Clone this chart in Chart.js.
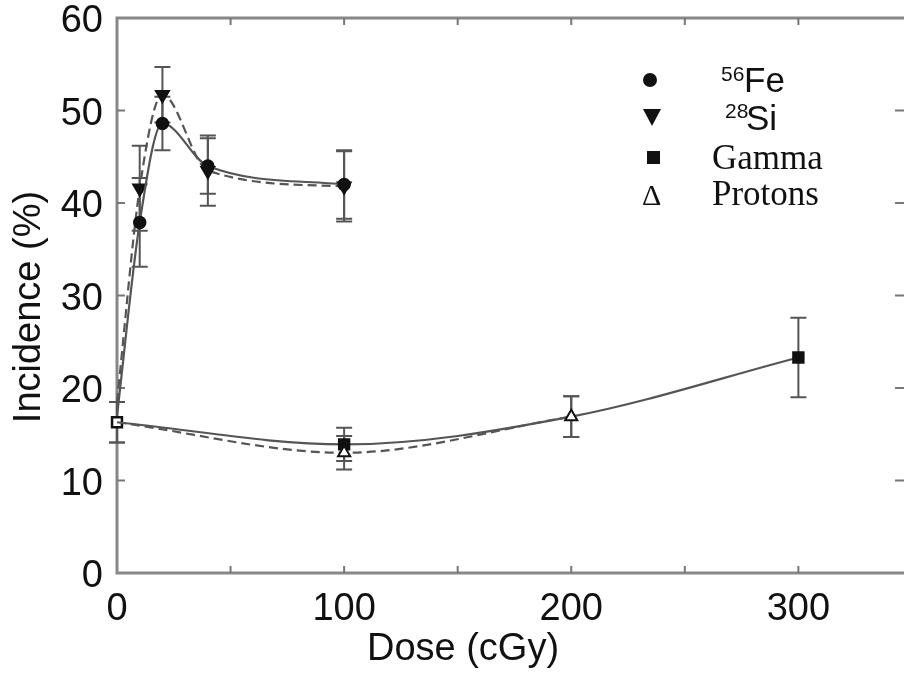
<!DOCTYPE html>
<html>
<head>
<meta charset="utf-8">
<script src="https://cdn.jsdelivr.net/npm/chart.js@4.4.0/dist/chart.umd.min.js"></script>
<style>
html, body { margin: 0; padding: 0; background: #fff; overflow: hidden; }
#chart { display: block; }
</style>
</head>
<body>
<canvas id="chart" width="904" height="687"></canvas>
<script>
// data
const feDose = [0, 10, 20, 40, 100];
const feInc = [17.0, 37.9, 48.6, 44.0, 42.0];
const feErr = [0, 4.8, 2.9, 3.0, 3.7];

const siDose = [0, 10, 20, 40, 100];
const siInc = [18.5, 41.6, 51.7, 43.5, 41.8];
const siErr = [0, 4.6, 3.0, 3.8, 3.8];

const gammaDose = [0, 100, 200, 300];
const gammaInc = [16.3, 13.9, 16.9, 23.3];
const gammaErr = [2.2, 1.8, 2.2, 4.3];

const protonDose = [0, 100, 200];
const protonInc = [16.3, 13.0, 16.9];
const protonErr = [2.2, 1.8, 2.2];

const xTickLabels = [0, 100, 200, 300];
const yTickLabels = [0, 10, 20, 30, 40, 50, 60];

const lineColor = '#555';
const ink = '#111';

function pts(xs, ys) {
    return xs.map((x, i) => ({ x: x, y: ys[i] }));
}

const errSets = [
    { dose: feDose, inc: feInc, err: feErr },
    { dose: siDose, inc: siInc, err: siErr },
    { dose: gammaDose, inc: gammaInc, err: gammaErr },
    { dose: protonDose, inc: protonInc, err: protonErr }
];

const framePlugin = {
    id: 'frame',
    beforeDatasetsDraw(chart) {
        const ctx = chart.ctx;
        const a = chart.chartArea;
        const xs = chart.scales.x, ys = chart.scales.y;
        ctx.save();
        // frame (right side falls outside the picture)
        ctx.strokeStyle = '#888';
        ctx.lineWidth = 3;
        ctx.beginPath();
        ctx.moveTo(a.right + 2, a.top);
        ctx.lineTo(a.left, a.top);
        ctx.lineTo(a.left, a.bottom);
        ctx.lineTo(a.right + 2, a.bottom);
        ctx.stroke();
        // inward ticks
        ctx.lineWidth = 2;
        ctx.strokeStyle = '#777';
        ctx.beginPath();
        for (let v = 50; v < 350; v += 50) {
            const px = xs.getPixelForValue(v);
            ctx.moveTo(px, a.bottom); ctx.lineTo(px, a.bottom - 7);
            ctx.moveTo(px, a.top); ctx.lineTo(px, a.top + 7);
        }
        for (let v = 10; v < 60; v += 10) {
            const py = ys.getPixelForValue(v);
            ctx.moveTo(a.left, py); ctx.lineTo(a.left + 8, py);
            ctx.moveTo(a.right + 2, py); ctx.lineTo(a.right - 9, py);
        }
        ctx.stroke();
        // error bars
        ctx.strokeStyle = '#555';
        ctx.lineWidth = 2;
        errSets.forEach(s => {
            s.dose.forEach((d, i) => {
                if (!s.err[i]) return;
                const px = xs.getPixelForValue(d);
                const top = ys.getPixelForValue(s.inc[i] + s.err[i]);
                const bot = ys.getPixelForValue(s.inc[i] - s.err[i]);
                ctx.beginPath();
                ctx.moveTo(px, top); ctx.lineTo(px, bot);
                ctx.moveTo(px - 8, top); ctx.lineTo(px + 8, top);
                ctx.moveTo(px - 8, bot); ctx.lineTo(px + 8, bot);
                ctx.stroke();
            });
        });
        ctx.restore();
    },
    afterDraw(chart) {
        const ctx = chart.ctx;
        ctx.save();
        ctx.fillStyle = ink;
        // axis titles
        ctx.font = '38px "Liberation Sans", Arial, sans-serif';
        ctx.textAlign = 'center';
        ctx.textBaseline = 'middle';
        ctx.fillText('Dose (cGy)', 463, 650);
        ctx.save();
        ctx.translate(30, 307);
        ctx.rotate(-Math.PI / 2);
        ctx.fillText('Incidence (%)', 0, 0);
        ctx.restore();

        // legend
        ctx.textAlign = 'left';
        ctx.textBaseline = 'alphabetic';
        ctx.beginPath();
        ctx.arc(650, 80, 7, 0, Math.PI * 2);
        ctx.fill();
        ctx.beginPath();
        ctx.moveTo(643, 109); ctx.lineTo(661, 109); ctx.lineTo(652, 126);
        ctx.closePath();
        ctx.fill();
        ctx.fillRect(647, 151, 13, 13);

        ctx.font = '21px "Liberation Sans", Arial, sans-serif';
        ctx.fillText('56', 721, 81);
        ctx.fillText('28', 725, 118);
        ctx.font = '35px "Liberation Sans", Arial, sans-serif';
        ctx.fillText('Fe', 744, 92);
        ctx.fillText('Si', 746, 130);
        ctx.font = '35px "Liberation Serif", "Times New Roman", serif';
        ctx.fillText('Gamma', 712, 169);
        ctx.fillText('Protons', 712, 205);
        ctx.font = '30px "Liberation Serif", "Times New Roman", serif';
        ctx.fillText('\u0394', 642, 205);
        ctx.restore();
    }
};

const baseLine = {
    borderColor: lineColor,
    borderWidth: 2.2,
    cubicInterpolationMode: 'monotone',
    pointBorderColor: ink,
    pointBorderWidth: 1.5,
    clip: false
};

const ctx = document.getElementById('chart');
new Chart(ctx, {
    type: 'line',
    data: {
        datasets: [
            Object.assign({}, baseLine, {
                label: '56Fe',
                data: pts(feDose, feInc),
                pointStyle: 'circle',
                pointRadius: feDose.map((d, i) => i === 0 ? 0 : 6),
                pointBackgroundColor: ink
            }),
            Object.assign({}, baseLine, {
                label: '28Si',
                data: pts(siDose, siInc),
                borderDash: [9, 5],
                pointStyle: 'triangle',
                rotation: 180,
                pointRadius: siDose.map((d, i) => i === 0 ? 0 : 8),
                pointBackgroundColor: ink
            }),
            Object.assign({}, baseLine, {
                label: 'Protons',
                data: pts(protonDose, protonInc),
                borderDash: [9, 5],
                pointStyle: 'triangle',
                pointRadius: protonDose.map((d, i) => i === 0 ? 0 : 7),
                pointBorderWidth: 2,
                pointBackgroundColor: '#fff'
            }),
            Object.assign({}, baseLine, {
                label: 'Gamma',
                data: pts(gammaDose, gammaInc),
                pointStyle: 'rect',
                pointRadius: gammaDose.map((d, i) => i === 2 ? 0 : 7),
                pointBorderWidth: 2.5,
                pointBackgroundColor: gammaDose.map((d, i) => i === 0 ? '#fff' : ink)
            })
        ]
    },
    options: {
        responsive: false,
        animation: false,
        layout: { autoPadding: false, padding: { top: 18, right: 0, bottom: 0, left: 0 } },
        plugins: {
            legend: { display: false },
            tooltip: { enabled: false }
        },
        scales: {
            x: {
                type: 'linear',
                min: 0,
                max: 346.5,
                afterFit: s => { s.height = 114; s.paddingLeft = 0; s.paddingRight = 0; },
                afterBuildTicks: s => { s.ticks = xTickLabels.map(v => ({ value: v })); },
                grid: { display: false, drawTicks: false },
                border: { display: false },
                ticks: {
                    padding: 14,
                    color: ink,
                    font: { family: '"Liberation Sans", Arial, sans-serif', size: 38 },
                    maxRotation: 0
                }
            },
            y: {
                min: 0,
                max: 60,
                afterFit: s => { s.width = 117; s.paddingTop = 0; s.paddingBottom = 0; },
                afterBuildTicks: s => { s.ticks = yTickLabels.map(v => ({ value: v })); },
                grid: { display: false, drawTicks: false },
                border: { display: false },
                ticks: {
                    padding: 14,
                    labelOffset: 4,
                    color: ink,
                    font: { family: '"Liberation Sans", Arial, sans-serif', size: 38 }
                }
            }
        }
    },
    plugins: [framePlugin]
});
</script>
</body>
</html>
